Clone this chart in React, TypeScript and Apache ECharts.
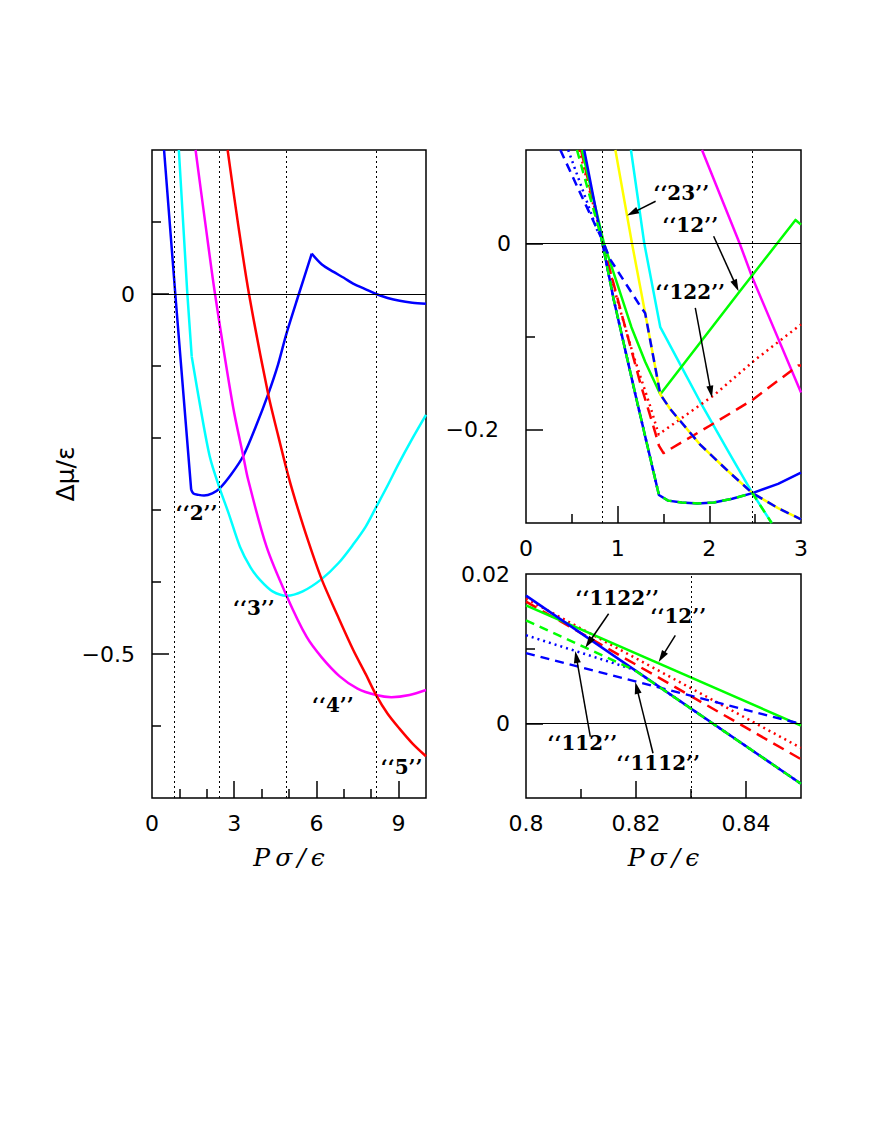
import React, { useEffect, useRef } from "react";
import * as echarts from "echarts";

// ---------------- Left panel: "2", "3", "4", "5" ----------------
const leftBlue2Steep = [[0.44,0.2],[0.85,0],[1.43,-0.272]];
const leftBlue2Rise = [[1.43,-0.272],[1.51,-0.277],[1.7,-0.279],[1.9,-0.28],[2.2,-0.277],[2.47,-0.27],[2.9,-0.25],[3.33,-0.225],[3.8,-0.183],[4.24,-0.139],[4.6,-0.098],[4.9,-0.056],[5.36,0],[5.83,0.056]];
const leftBlue2Decay = [[5.83,0.056],[6.2,0.041],[6.61,0.031],[7.0,0.0225],[7.34,0.0145],[7.8,0.0065],[8.18,0],[8.6,-0.0055],[9.04,-0.0095],[9.5,-0.012],[10,-0.0135]];
const leftCyan3Steep = [[0.98,0.2],[1.29,0],[1.45,-0.087]];
const leftCyan3Curve = [[1.45,-0.087],[1.76,-0.156],[2.11,-0.226],[2.47,-0.27],[2.8,-0.305],[3.21,-0.351],[3.6,-0.38],[3.94,-0.397],[4.4,-0.413],[4.91,-0.419],[5.5,-0.413],[6.19,-0.396],[6.8,-0.374],[7.34,-0.348],[7.8,-0.323],[8.18,-0.296],[8.6,-0.266],[9.0,-0.236],[9.5,-0.201],[10,-0.168]];
const leftMagenta4 = [[1.59,0.2],[1.95,0.097],[2.3,0],[2.96,-0.157],[3.33,-0.225],[3.51,-0.258],[4.18,-0.351],[4.91,-0.419],[5.64,-0.476],[6.2,-0.505],[6.85,-0.531],[7.5,-0.548],[8.18,-0.557],[8.74,-0.56],[9.4,-0.557],[10,-0.55]];
const leftRed5 = [[2.76,0.2],[3.15,0.095],[3.54,0],[4.24,-0.139],[4.6,-0.196],[4.97,-0.252],[5.25,-0.289],[5.7,-0.343],[6.19,-0.396],[6.8,-0.449],[7.34,-0.494],[7.8,-0.528],[8.18,-0.557],[8.6,-0.583],[9.04,-0.604],[9.5,-0.624],[10,-0.642]];
const leftTransitions = [0.8335, 2.47, 4.9, 8.18];

// ---------------- Top-right panel ----------------
const trMagenta = [[1.92,0.1],[2.33,0],[2.47,-0.037],[3.0,-0.16]];
const trCyan = [[1.145,0.1],[1.29,0],[1.465,-0.09],[1.65,-0.124],[1.9,-0.17],[2.2,-0.222],[2.47,-0.268],[2.68,-0.3]];
const trRedDashed = [[0.6,0.1],[0.839,0],[1.03,-0.071],[1.247,-0.15],[1.41,-0.203],[1.45,-0.217],[1.5,-0.225],[2.0,-0.196],[2.47,-0.168],[2.93,-0.134],[2.97,-0.131],[3.0,-0.131]];
const trRedDotted = [[0.58,0.1],[0.842,0],[0.993,-0.06],[1.174,-0.121],[1.356,-0.175],[1.447,-0.205],[2.05,-0.163],[2.5,-0.125],[3.0,-0.087]];
const trGreen12 = [[0.61,0.1],[0.85,0],[1.0,-0.045],[1.15,-0.09],[1.3,-0.127],[1.465,-0.162],[2.32,-0.053],[2.94,0.025],[3.0,0.02]];
const trYellow23 = [[0.975,0.1],[1.156,0],[1.3,-0.075],[1.465,-0.162],[1.575,-0.178],[1.9,-0.216],[2.2,-0.244],[2.47,-0.268],[2.75,-0.284],[3.0,-0.296]];
const trBlue2 = [[0.635,0.1],[0.8335,0],[0.956,-0.06],[1.2,-0.165],[1.45,-0.27],[1.55,-0.276],[1.7,-0.278],[1.87,-0.279],[2.05,-0.278],[2.25,-0.274],[2.47,-0.268],[2.75,-0.258],[3.0,-0.246]];
const trBlueDotted112 = [[0.46,0.1],[0.6,0.062],[0.774,0.0147],[0.8196,0.0073],[0.8335,0],[0.956,-0.06],[1.2,-0.165],[1.45,-0.27]];
const trBlueDashed1112 = [[0.375,0.1],[0.6,0.052],[0.8335,0.0033],[0.92,-0.0175],[1.1,-0.045],[1.247,-0.0675],[1.3,-0.075],[1.465,-0.162],[1.575,-0.178],[1.9,-0.216],[2.2,-0.244],[2.47,-0.268],[2.75,-0.284],[3.0,-0.296]];
const trGreenDashed1122 = [[0.556,0.1],[0.7,0.049],[0.8196,0.0072],[0.8335,0],[0.956,-0.06],[1.2,-0.165],[1.45,-0.27],[1.55,-0.276],[1.7,-0.278],[1.87,-0.279],[2.05,-0.278],[2.25,-0.274],[2.47,-0.268],[2.68,-0.3]];
const trTransitions = [0.8335, 2.47];

// ---------------- Bottom-right panel (zoom near P = 0.83) ----------------
const brBlue2 = [[0.8,0.0171],[0.85,-0.0081]];
const brRedDotted = [[0.8,0.0167],[0.85,-0.0033]];
const brRedDashed = [[0.8,0.0163],[0.85,-0.0048]];
const brGreen12 = [[0.8,0.0158],[0.85,-0.0003]];
const brGreenDashed1122 = [[0.8,0.0138],[0.8198,0.0071],[0.85,-0.0081]];
const brBlueDotted112 = [[0.8,0.0118],[0.8196,0.0072],[0.85,-0.0081]];
const brBlueDashed1112 = [[0.8,0.0094],[0.85,-0.0001]];
const brTransitions = [0.8335];

// ---------------- Axes ticks / labels ----------------
const leftXMajor = [3, 6, 9], leftXMinor = [1, 2, 4, 5, 7, 8], leftXLabels = [0, 3, 6, 9];
const leftYMajor = [0, -0.5], leftYMinor = [0.1, -0.1, -0.2, -0.3, -0.4, -0.6], leftYLabels = [0, -0.5];
const trXMajor = [1, 2], trXMinor = [0.5, 1.5, 2.5], trXLabels = [0, 1, 2, 3];
const trYMajor = [0, -0.2], trYMinor = [-0.1], trYLabels = [0, -0.2];
const brXMajor = [0.82, 0.84], brXMinor = [0.81, 0.83], brXLabels = [0.8, 0.82, 0.84];
const brYMajor = [0], brYMinor = [0.01], brYLabels = [0, 0.02];

// ---------------- Annotations (data coordinates of each panel) ----------------
const phaseLabels = [
  { panel: 0, text: "‘‘2’’", at: [1.63, -0.304] },
  { panel: 0, text: "‘‘3’’", at: [3.72, -0.436] },
  { panel: 0, text: "‘‘4’’", at: [6.6, -0.571] },
  { panel: 0, text: "‘‘5’’", at: [9.11, -0.657] },
  { panel: 1, text: "‘‘23’’", at: [1.694, 0.0543] },
  { panel: 1, text: "‘‘12’’", at: [1.792, 0.02] },
  { panel: 1, text: "‘‘122’’", at: [1.792, -0.0518] },
  { panel: 2, text: "‘‘1122’’", at: [0.8166, 0.01684] },
  { panel: 2, text: "‘‘12’’", at: [0.82769, 0.01444] },
  { panel: 2, text: "‘‘112’’", at: [0.81024, -0.00263] },
  { panel: 2, text: "‘‘1112’’", at: [0.82405, -0.00529] },
];
const arrowList = [
  { panel: 1, from: [1.414, 0.045], to: [1.102, 0.0297] },
  { panel: 1, from: [2.047, 0.0075], to: [2.319, -0.0514] },
  { panel: 1, from: [1.847, -0.0692], to: [2.029, -0.1657] },
  { panel: 2, from: [0.81502, 0.01467], to: [0.81078, 0.01013] },
  { panel: 2, from: [0.82715, 0.01177], to: [0.82411, 0.00821] },
  { panel: 2, from: [0.81169, -0.00179], to: [0.80896, 0.00968] },
  { panel: 2, from: [0.82309, -0.004], to: [0.81987, 0.00555] },
];

const BLUE = "#0000ff", GREEN = "#00ff00", RED = "#ff0000", CYAN = "#00ffff", MAGENTA = "#ff00ff", YELLOW = "#ffff00";
const SANS = "DejaVu Sans";
const SERIF = "DejaVu Serif";
const DASH = [9, 6];
const RDASH = [12, 7];
const DOT = [2, 4];

function fmt(v: number): string {
  const s = String(Math.round(v * 10000) / 10000);
  return s.replace("-", "\u2212");
}

function axisPair(dim: "x" | "y", grid: number, min: number, max: number, major: number[], minor: number[], labels: number[], margin: number, extra: any = {}) {
  const common = {
    type: "value", gridIndex: grid, min, max, position: dim === "x" ? "bottom" : "left",
    axisLine: { show: false, onZero: false }, splitLine: { show: false }, minorTick: { show: false },
  };
  const majorAxis: any = {
    ...common,
    axisTick: { show: true, inside: true, length: 17, customValues: major, lineStyle: { color: "#000", width: 1.5 } },
    axisLabel: { show: true, customValues: labels, margin, formatter: fmt, fontFamily: SANS, fontSize: 22, color: "#000" },
    ...extra,
  };
  const minorAxis: any = {
    ...common,
    axisTick: { show: true, inside: true, length: 9, customValues: minor, lineStyle: { color: "#000", width: 1.5 } },
    axisLabel: { show: false },
  };
  return [majorAxis, minorAxis];
}

function line(data: number[][], panel: number, color: string, type: any, smooth: number | boolean = false, marks?: number[]) {
  const s: any = {
    type: "line", data, xAxisIndex: panel * 2, yAxisIndex: panel * 2,
    showSymbol: false, symbol: "none", smooth, clip: true, silent: true,
    lineStyle: { color, width: 2.5, type, cap: "butt", join: "round" },
  };
  if (marks) {
    s.markLine = {
      silent: true, symbol: ["none", "none"], label: { show: false }, animation: false,
      data: [
        { yAxis: 0, lineStyle: { type: "solid", color: "#000", width: 1 } },
        ...marks.map((v) => ({ xAxis: v, lineStyle: { type: [2, 3], color: "#000", width: 1 } })),
      ],
    };
  }
  return s;
}

export default function App() {
  const ref = useRef<HTMLDivElement>(null);
  useEffect(() => {
    const chart = echarts.init(ref.current!, null, { renderer: "svg" });
    const nameStyle = { fontFamily: SERIF, fontStyle: "italic", fontSize: 25, color: "#000" };
    const xTitle = "P\u2009σ\u2009/\u2009ϵ";
    const xAxes = [
      ...axisPair("x", 0, 0, 10, leftXMajor, leftXMinor, leftXLabels, 14, { name: xTitle, nameLocation: "middle", nameGap: 47, nameTextStyle: nameStyle }),
      ...axisPair("x", 1, 0, 3, trXMajor, trXMinor, trXLabels, 14),
      ...axisPair("x", 2, 0.8, 0.85, brXMajor, brXMinor, brXLabels, 14, { name: xTitle, nameLocation: "middle", nameGap: 47, nameTextStyle: nameStyle }),
    ];
    const yAxes = [
      ...axisPair("y", 0, -0.7, 0.2, leftYMajor, leftYMinor, leftYLabels, 17, {
        name: "Δμ/ε", nameLocation: "middle", nameRotate: 90, nameGap: 24,
        nameTextStyle: { fontFamily: SANS, fontSize: 25, color: "#000" },
      }),
      ...axisPair("y", 1, -0.3, 0.1, trYMajor, trYMinor, trYLabels, 15),
      ...axisPair("y", 2, -0.01, 0.02, brYMajor, brYMinor, brYLabels, 16),
    ];
    // shift the −0.2 label of the top-right panel, as in the original
    yAxes[2].axisLabel.formatter = (v: number) => (Math.abs(v + 0.2) < 1e-9 ? "{s|" + fmt(v) + "}" : fmt(v));
    yAxes[2].axisLabel.rich = { s: { fontFamily: SANS, fontSize: 22, color: "#000", padding: [0, 12, 0, 0] } };

    const leftSeries = [
      line(leftBlue2Steep, 0, BLUE, "solid", false, leftTransitions),
      line(leftBlue2Rise, 0, BLUE, "solid", 0.3),
      line(leftBlue2Decay, 0, BLUE, "solid", 0.3),
      line(leftCyan3Steep, 0, CYAN, "solid"),
      line(leftCyan3Curve, 0, CYAN, "solid", 0.3),
      line(leftMagenta4, 0, MAGENTA, "solid", 0.3),
      line(leftRed5, 0, RED, "solid", 0.3),
    ];
    const trSeries = [
      line(trMagenta, 1, MAGENTA, "solid", false, trTransitions),
      line(trCyan, 1, CYAN, "solid"),
      line(trRedDashed, 1, RED, RDASH),
      line(trRedDotted, 1, RED, DOT),
      line(trGreen12, 1, GREEN, "solid"),
      line(trYellow23, 1, YELLOW, "solid"),
      line(trBlue2, 1, BLUE, "solid"),
      line(trBlueDotted112, 1, BLUE, DOT),
      line(trBlueDashed1112, 1, BLUE, DASH),
      line(trGreenDashed1122, 1, GREEN, DASH),
    ];
    const brSeries = [
      line(brRedDashed, 2, RED, RDASH, false, brTransitions),
      line(brRedDotted, 2, RED, DOT),
      line(brGreen12, 2, GREEN, "solid"),
      line(brBlue2, 2, BLUE, "solid"),
      line(brBlueDotted112, 2, BLUE, DOT),
      line(brBlueDashed1112, 2, BLUE, DASH),
      line(brGreenDashed1122, 2, GREEN, DASH),
    ];
    const panelSeries = [0, leftSeries.length, leftSeries.length + trSeries.length];

    const gridStyle = { show: true, borderColor: "#000", borderWidth: 1.5, backgroundColor: "transparent" };
    const option: any = {
      animation: false,
      backgroundColor: "#fff",
      textStyle: { fontFamily: SANS },
      grid: [
        { ...gridStyle, left: 152, top: 150, width: 274, height: 648 },
        { ...gridStyle, left: 526, top: 150, width: 275, height: 373 },
        { ...gridStyle, left: 526, top: 574, width: 275, height: 224 },
      ],
      xAxis: xAxes,
      yAxis: yAxes,
      series: [...leftSeries, ...trSeries, ...brSeries],
    };
    chart.setOption(option);

    const g: any[] = [];
    for (const l of phaseLabels) {
      const p = chart.convertToPixel({ seriesIndex: panelSeries[l.panel] }, l.at) as number[];
      g.push({
        type: "text", x: p[0], y: p[1], z: 100,
        style: { text: l.text, align: "center", verticalAlign: "middle", fontFamily: SERIF, fontWeight: "bold", fontSize: 20, fill: "#000" },
      });
    }
    for (const a of arrowList) {
      const p1 = chart.convertToPixel({ seriesIndex: panelSeries[a.panel] }, a.from) as number[];
      const p2 = chart.convertToPixel({ seriesIndex: panelSeries[a.panel] }, a.to) as number[];
      const dx = p2[0] - p1[0], dy = p2[1] - p1[1];
      const len = Math.hypot(dx, dy) || 1;
      const ux = dx / len, uy = dy / len;
      const L = 12, W = 3.5;
      const bx = p2[0] - ux * L, by = p2[1] - uy * L;
      g.push({ type: "line", z: 100, shape: { x1: p1[0], y1: p1[1], x2: bx + ux * 2, y2: by + uy * 2 }, style: { stroke: "#000", lineWidth: 1.5 } });
      g.push({
        type: "polygon", z: 100,
        shape: { points: [[p2[0], p2[1]], [bx - uy * W, by + ux * W], [bx + uy * W, by - ux * W]] },
        style: { fill: "#000" },
      });
    }
    chart.setOption({ graphic: g });
    return () => chart.dispose();
  }, []);
  return <div ref={ref} style={{ position: "absolute", left: 0, top: 0, width: 872, height: 1128 }} />;
}
